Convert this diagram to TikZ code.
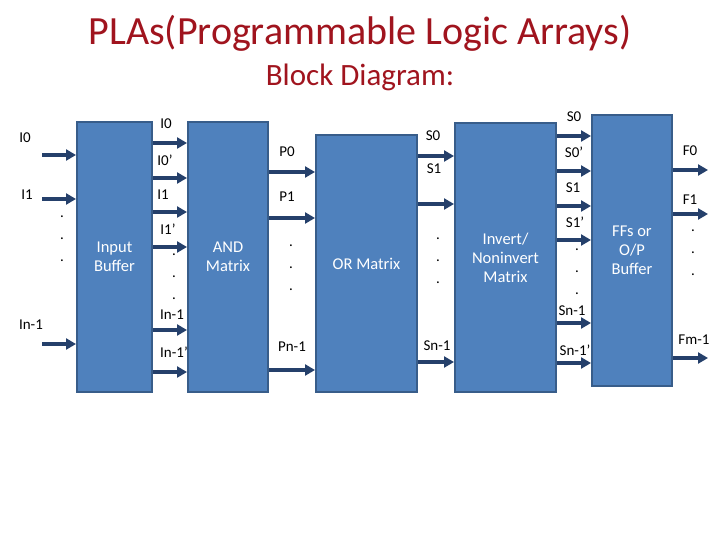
\documentclass[tikz,border=0pt]{standalone}
\usepackage{fontspec}
\setmainfont{Carlito}
\usetikzlibrary{arrows.meta}
\definecolor{pla_red}{RGB}{160, 20, 30}
\definecolor{pla_fill}{RGB}{79, 129, 189}
\definecolor{pla_edge}{RGB}{56, 93, 138}
\definecolor{pla_arrow}{RGB}{37, 64, 107}

\begin{document}
\begin{tikzpicture}[x=1pt, y=-1pt,
    blk/.style={rectangle, draw=pla_edge, fill=pla_fill, line width=2pt,
                inner sep=0pt, align=center, text=white,
                font=\fontsize{16.5}{19}\selectfont},
    arr/.style={-{Triangle[length=10pt, width=11pt]}, line width=3.5pt, pla_arrow},
    lbl/.style={font=\fontsize{15}{17}\selectfont, inner sep=0pt},
    dotcol/.style={font=\fontsize{15}{22}\selectfont, align=center, inner sep=0pt},
  ]
    \useasboundingbox (0,0) rectangle (720,540);

    % Title
    \node[font=\fontsize{40}{46}\selectfont, text=pla_red] (title) at (360,33)
      {PLAs(Programmable Logic Arrays)};
    \node[font=\fontsize{31}{36}\selectfont, text=pla_red] (sub) at (360,77)
      {Block Diagram:};

    % Blocks
    \node[blk, minimum width=75, minimum height=270] (inbuf) at (114.5,257)
      {Input\\Buffer};
    \node[blk, minimum width=80, minimum height=270] (andm) at (228,257)
      {AND\\Matrix};
    \node[blk, minimum width=101, minimum height=257] (orm) at (366.5,263.5)
      {OR Matrix};
    \node[blk, minimum width=101, minimum height=269] (invm) at (505.5,257.5)
      {Invert/\\Noninvert\\Matrix};
    \node[blk, minimum width=80, minimum height=271] (ffs) at (632,250.5)
      {FFs or\\O/P\\Buffer};

    % Inputs
    \coordinate (i0) at (42,155);
    \coordinate (i1) at (42,199);
    \coordinate (in1) at (42,344);
    \draw[arr] (i0)  -- (inbuf.west |- i0);
    \draw[arr] (i1)  -- (inbuf.west |- i1);
    \draw[arr] (in1) -- (inbuf.west |- in1);

    % Input Buffer -> AND Matrix
    \draw[arr] (inbuf.east |- 0,143) -- (andm.west |- 0,143);
    \draw[arr] (inbuf.east |- 0,178) -- (andm.west |- 0,178);
    \draw[arr] (inbuf.east |- 0,212) -- (andm.west |- 0,212);
    \draw[arr] (inbuf.east |- 0,247) -- (andm.west |- 0,247);
    \draw[arr] (inbuf.east |- 0,330) -- (andm.west |- 0,330);
    \draw[arr] (inbuf.east |- 0,372) -- (andm.west |- 0,372);

    % AND Matrix -> OR Matrix
    \draw[arr] (andm.east |- 0,172) -- (orm.west |- 0,172);
    \draw[arr] (andm.east |- 0,218) -- (orm.west |- 0,218);
    \draw[arr] (andm.east |- 0,370) -- (orm.west |- 0,370);

    % OR Matrix -> Invert/Noninvert Matrix
    \draw[arr] (orm.east |- 0,156) -- (invm.west |- 0,156);
    \draw[arr] (orm.east |- 0,204) -- (invm.west |- 0,204);
    \draw[arr] (orm.east |- 0,362) -- (invm.west |- 0,362);

    % Invert/Noninvert Matrix -> FFs
    \draw[arr] (invm.east |- 0,136) -- (ffs.west |- 0,136);
    \draw[arr] (invm.east |- 0,171) -- (ffs.west |- 0,171);
    \draw[arr] (invm.east |- 0,206) -- (ffs.west |- 0,206);
    \draw[arr] (invm.east |- 0,240) -- (ffs.west |- 0,240);
    \draw[arr] (invm.east |- 0,323) -- (ffs.west |- 0,323);
    \draw[arr] (invm.east |- 0,363) -- (ffs.west |- 0,363);

    % Outputs
    \coordinate (f0) at (708,170);
    \coordinate (f1) at (708,214);
    \coordinate (fm1) at (708,358);
    \draw[arr] (ffs.east |- f0)  -- (f0);
    \draw[arr] (ffs.east |- f1)  -- (f1);
    \draw[arr] (ffs.east |- fm1) -- (fm1);

    % Labels
    \node[lbl] (li0)  at (25,138) {I0};
    \node[lbl] (li1)  at (27,195) {I1};
    \node[lbl] (lin1) at (31,325) {In-1};
    \node[dotcol] (d1) at (62,239) {.\\.\\.};

    \node[lbl] (la0)  at (166,124) {I0};
    \node[lbl] (la0n) at (165,160) {I0'};
    \node[lbl] (la1)  at (163,195) {I1};
    \node[lbl] (la1n) at (168,229) {I1'};
    \node[dotcol] (d2) at (174,277) {.\\.\\.};
    \node[lbl] (lan)  at (172,315) {In-1};
    \node[lbl] (lann) at (174,352) {In-1'};

    \node[lbl] (lp0) at (287,152) {P0};
    \node[lbl] (lp1) at (287,197) {P1};
    \node[dotcol] (d3) at (291,268) {.\\.\\.};
    \node[lbl] (lpn) at (292,347) {Pn-1};

    \node[lbl] (ls0) at (433,136) {S0};
    \node[lbl] (ls1) at (434,169) {S1};
    \node[dotcol] (d4) at (438,261) {.\\.\\.};
    \node[lbl] (lsn) at (437,346) {Sn-1};

    \node[lbl] (lt0)  at (574,117) {S0};
    \node[lbl] (lt0n) at (574,152) {S0'};
    \node[lbl] (lt1)  at (573,188) {S1};
    \node[lbl] (lt1n) at (575,222) {S1'};
    \node[dotcol] (d5) at (577,272) {.\\.\\.};
    \node[lbl] (ltn)  at (572,311) {Sn-1};
    \node[lbl] (ltnn) at (575,350) {Sn-1'};

    \node[lbl] (lf0) at (690,151) {F0};
    \node[lbl] (lf1) at (690,200) {F1};
    \node[dotcol] (d6) at (693,253) {.\\.\\.};
    \node[lbl] (lfm) at (694,340) {Fm-1};
  \end{tikzpicture}
\end{document}
